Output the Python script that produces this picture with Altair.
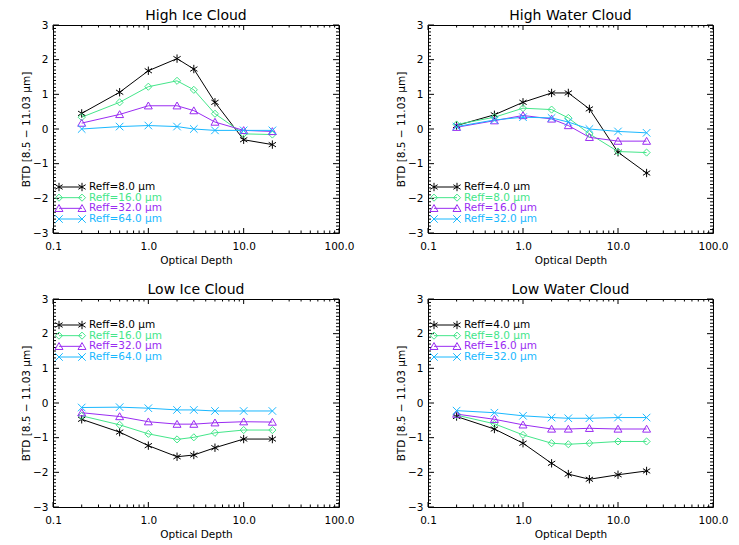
import altair as alt
import pandas as pd

# ---------------- data ----------------
tau = [0.2, 0.5, 1.0, 2.0, 3.0, 5.0, 10.0, 20.0]

high_ice_labels = ["Reff=8.0 μm", "Reff=16.0 μm", "Reff=32.0 μm", "Reff=64.0 μm"]
high_ice_r8 = [0.45, 1.06, 1.68, 2.03, 1.73, 0.77, -0.31, -0.45]
high_ice_r16 = [0.34, 0.77, 1.22, 1.39, 1.13, 0.44, -0.14, -0.16]
high_ice_r32 = [0.17, 0.42, 0.67, 0.67, 0.53, 0.20, -0.04, -0.07]
high_ice_r64 = [0.00, 0.07, 0.10, 0.07, 0.00, -0.04, -0.04, -0.04]

high_water_labels = ["Reff=4.0 μm", "Reff=8.0 μm", "Reff=16.0 μm", "Reff=32.0 μm"]
high_water_r4 = [0.10, 0.41, 0.77, 1.04, 1.04, 0.58, -0.67, -1.27]
high_water_r8 = [0.13, 0.34, 0.60, 0.56, 0.32, -0.14, -0.65, -0.68]
high_water_r16 = [0.05, 0.24, 0.39, 0.29, 0.10, -0.24, -0.35, -0.35]
high_water_r32 = [0.07, 0.26, 0.34, 0.32, 0.20, 0.00, -0.07, -0.11]

low_ice_labels = ["Reff=8.0 μm", "Reff=16.0 μm", "Reff=32.0 μm", "Reff=64.0 μm"]
low_ice_r8 = [-0.47, -0.84, -1.23, -1.55, -1.50, -1.29, -1.04, -1.04]
low_ice_r16 = [-0.37, -0.63, -0.89, -1.05, -0.99, -0.86, -0.78, -0.78]
low_ice_r32 = [-0.28, -0.39, -0.54, -0.61, -0.61, -0.57, -0.54, -0.55]
low_ice_r64 = [-0.13, -0.12, -0.15, -0.20, -0.20, -0.23, -0.23, -0.23]

low_water_labels = ["Reff=4.0 μm", "Reff=8.0 μm", "Reff=16.0 μm", "Reff=32.0 μm"]
low_water_r4 = [-0.39, -0.75, -1.16, -1.74, -2.05, -2.20, -2.07, -1.96]
low_water_r8 = [-0.35, -0.60, -0.92, -1.16, -1.19, -1.16, -1.11, -1.11]
low_water_r16 = [-0.32, -0.47, -0.63, -0.75, -0.75, -0.73, -0.75, -0.75]
low_water_r32 = [-0.22, -0.28, -0.37, -0.42, -0.44, -0.44, -0.42, -0.42]

x_major = [0.1, 1.0, 10.0, 100.0]
y_major = [-3, -2, -1, 0, 1, 2, 3]

# ---------------- styling ----------------
COLORS = ["#000000", "#44e68a", "#9a2cf2", "#19b8ff"]
SHAPES = [
    "M0,-1L0,1M-0.87,-0.55L0.87,0.55M-0.87,0.55L0.87,-0.55",  # asterisk
    "M0,-0.85L0.85,0L0,0.85L-0.85,0Z",                         # diamond
    "M0,-0.9L0.95,0.75L-0.95,0.75Z",                           # triangle
    "M-0.9,-0.9L0.9,0.9M-0.9,0.9L0.9,-0.9",                    # x
]
FONT = "DejaVu Sans"
PT_SIZE = 70

# tick positions for the inward-pointing IDL-style ticks
x_minor = [round(m * 10 ** e, 1) for e in (-1, 0, 1) for m in range(2, 10)]
y_minor = [round(i / 10, 1) for i in range(-30, 31) if i % 10 != 0]


def panel(title, labels, series, legend_range, W, H):
    rows = []
    for i, vals in enumerate(series):
        for t, v in zip(tau, vals):
            rows.append({"tau": t, "btd": v, "s": i})
    df = pd.DataFrame(rows)
    leg = pd.DataFrame({"s": list(range(len(labels))), "label": labels})

    xs = alt.Scale(type="log", domain=[0.1, 100], nice=False)
    ys = alt.Scale(domain=[-3, 3], nice=False, zero=False)
    color = alt.Color("s:N", scale=alt.Scale(domain=[0, 1, 2, 3], range=COLORS), legend=None)
    shape = alt.Shape("s:N", scale=alt.Scale(domain=[0, 1, 2, 3], range=SHAPES), legend=None)

    x_lab = alt.Axis(
        orient="bottom", values=x_major, labelExpr="format(datum.value, '.1f')",
        ticks=False, domain=False, grid=False, labelPadding=8, labelFontSize=10.5,
        labelFlush=False, labelOverlap=False, labelBound=False,
        title="Optical Depth", titlePadding=4, titleFontSize=10.5, titleFontWeight="normal",
    )
    y_lab = alt.Axis(
        orient="left", values=y_major, format="d", ticks=False, domain=False, grid=False,
        labelPadding=5, labelFontSize=10.5, labelFlush=False, labelOverlap=False,
        title="BTD [8.5 − 11.03 μm]", titlePadding=6, titleFontSize=10.5,
        titleFontWeight="normal", minExtent=16, maxExtent=16,
    )

    lines = alt.Chart(df).mark_line(strokeWidth=1).encode(
        x=alt.X("tau:Q", scale=xs, axis=x_lab),
        y=alt.Y("btd:Q", scale=ys, axis=y_lab),
        color=color, detail="s:N",
    )
    pts = alt.Chart(df).mark_point(filled=False, size=PT_SIZE, strokeWidth=1, opacity=1).encode(
        x=alt.X("tau:Q", scale=xs, axis=None),
        y=alt.Y("btd:Q", scale=ys, axis=None),
        color=color, shape=shape,
    )

    # inward ticks on all four sides (major and minor), positioned by the scales
    def xtick(values, y0, y1):
        return alt.Chart(pd.DataFrame({"v": values})).mark_rule(color="black", strokeWidth=1).encode(
            x=alt.X("v:Q", scale=xs, axis=None), y=alt.value(y0), y2=alt.value(y1))

    def ytick(values, x0, x1):
        return alt.Chart(pd.DataFrame({"v": values})).mark_rule(color="black", strokeWidth=1).encode(
            y=alt.Y("v:Q", scale=ys, axis=None), x=alt.value(x0), x2=alt.value(x1))

    ticks = [
        xtick(x_major, H, H - 5), xtick(x_major, 0, 5),
        xtick(x_minor, H, H - 2.5), xtick(x_minor, 0, 2.5),
        ytick(y_major, 0, 6), ytick(y_major, W, W - 6),
        ytick(y_minor, 0, 3), ytick(y_minor, W, W - 3),
    ]

    ly = alt.Y("s:Q", scale=alt.Scale(domain=[0, 3], range=legend_range, nice=False, zero=False), axis=None)
    leg_rule = alt.Chart(leg).mark_rule(strokeWidth=1).encode(
        x=alt.value(6), x2=alt.value(29), y=ly, color=color)
    leg_p1 = alt.Chart(leg).mark_point(filled=False, size=PT_SIZE, strokeWidth=1, opacity=1).encode(
        x=alt.value(6), y=ly, color=color, shape=shape)
    leg_p2 = alt.Chart(leg).mark_point(filled=False, size=PT_SIZE, strokeWidth=1, opacity=1).encode(
        x=alt.value(29), y=ly, color=color, shape=shape)
    leg_txt = alt.Chart(leg).mark_text(align="left", baseline="middle", fontSize=10.5, font=FONT).encode(
        x=alt.value(36), y=ly, text="label:N", color=color)

    return alt.layer(
        lines, pts, *ticks, leg_rule, leg_p1, leg_p2, leg_txt
    ).resolve_scale(y="independent").resolve_axis(x="independent", y="independent").properties(
        width=W, height=H,
        title=alt.TitleParams(title, fontSize=14, fontWeight="normal", offset=-3, anchor="middle",
                              font=FONT, color="black"),
    )


W1, W2, H = 286, 285, 208
TOP_LEG = [162, 194]
BOT_LEG = [26, 58]

p1 = panel("High Ice Cloud", high_ice_labels,
           [high_ice_r8, high_ice_r16, high_ice_r32, high_ice_r64], TOP_LEG, W1, H)
p2 = panel("High Water Cloud", high_water_labels,
           [high_water_r4, high_water_r8, high_water_r16, high_water_r32], TOP_LEG, W2, H)
p3 = panel("Low Ice Cloud", low_ice_labels,
           [low_ice_r8, low_ice_r16, low_ice_r32, low_ice_r64], BOT_LEG, W1, H)
p4 = panel("Low Water Cloud", low_water_labels,
           [low_water_r4, low_water_r8, low_water_r16, low_water_r32], BOT_LEG, W2, H)

chart = alt.concat(
    p1, p2, p3, p4, columns=2, bounds="flush", spacing={"row": 66, "column": 89},
).properties(
    padding={"left": 12, "top": 0, "right": 0, "bottom": 0}
).configure(
    font=FONT, background="white"
).configure_view(
    stroke="black", strokeWidth=1
).configure_axis(
    labelColor="black", titleColor="black", labelFont=FONT, titleFont=FONT
)

chart.save("out.html", embed_options={"renderer": "svg", "actions": False})
